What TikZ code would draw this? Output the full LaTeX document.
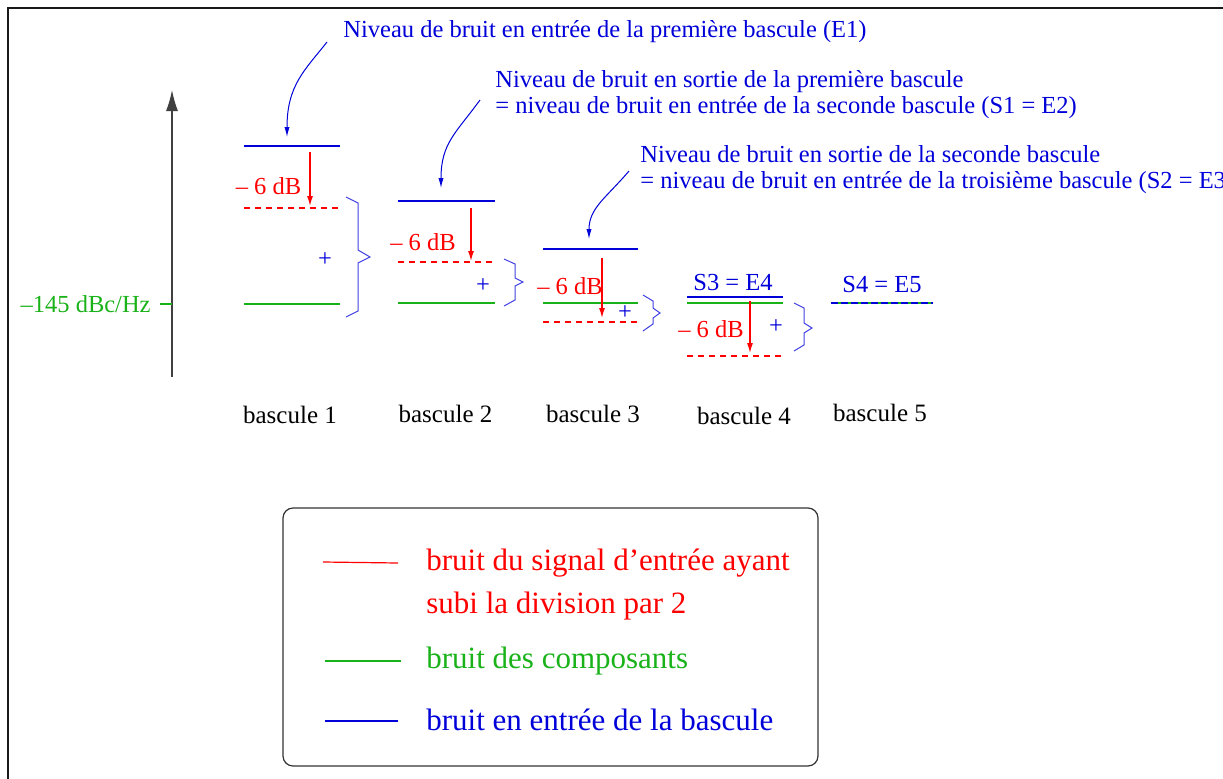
\documentclass[tikz,border=0pt]{standalone}
\usepackage{fontspec}
\setmainfont{Liberation Serif}
\usetikzlibrary{arrows.meta, positioning}

\definecolor{noiseRed}{rgb}{1,0,0}
\definecolor{noiseGreen}{rgb}{0.1,0.7,0.1}
\definecolor{noiseBlue}{rgb}{0,0,0.85}

\begin{document}
\begin{tikzpicture}[
    x=0.5pt, y=-0.5pt,
    >=Latex,
    inputLevel/.style={draw=noiseBlue, line width=0.6pt},
    compLevel/.style={draw=noiseGreen, line width=0.6pt},
    halfLevel/.style={draw=noiseRed, line width=0.6pt, dash pattern=on 3pt off 2.5pt},
    dropArrow/.style={draw=noiseRed, line width=0.6pt, -{Latex[length=5pt,width=3pt]}},
    noteArrow/.style={draw=noiseBlue, line width=0.5pt, -{Latex[length=5pt,width=2.6pt]}},
    sumBrace/.style={draw=noiseBlue!75!white, line width=0.5pt},
    noteText/.style={text=noiseBlue, font=\fontsize{12.25}{13}\selectfont, align=left, inner sep=0pt, anchor=west},
    dropText/.style={text=noiseRed, font=\fontsize{12.25}{14}\selectfont, inner sep=0pt},
    plusText/.style={text=noiseBlue, font=\fontsize{12.25}{14}\selectfont, inner sep=0pt},
    stageText/.style={font=\fontsize{12.5}{14}\selectfont, inner sep=0pt},
    keyText/.style={font=\fontsize{15.5}{21.5}\selectfont, align=left, inner sep=0pt, anchor=west},
    keyLine/.style={line width=0.6pt}
]
\useasboundingbox (0,0) rectangle (1223,778);

% ----------------------------------------------------
% Frame and level axis
% ----------------------------------------------------
\draw[line width=1pt, black!90] (7.5,800) -- (7.5,7.5) -- (1240,7.5);

\coordinate (axisLow) at (172,377);
\coordinate (axisHigh) at (172,90);
\coordinate (refTick) at (160,304);
\draw[line width=0.65pt, black!75, -{Latex[length=10.5pt,width=6pt]}] (axisLow) -- (axisHigh);
\draw[compLevel] (refTick) -- (172,304);
\node[text=noiseGreen, font=\fontsize{12.25}{14}\selectfont, inner sep=0pt, anchor=east] (refLabel) at (151,304) {--145 dBc/Hz};

% ----------------------------------------------------
% Bascule 1
% ----------------------------------------------------
\draw[inputLevel] (244,146) -- (340,146);
\draw[halfLevel] (244,208) -- (340,208);
\draw[compLevel] (244,304) -- (340,304);
\coordinate (dropTop1) at (310,152);
\coordinate (dropEnd1) at (310,206);
\draw[dropArrow] (dropTop1) -- (dropEnd1);
\node[dropText] (drop1) at (268.5,186) {-- 6 dB};
\node[plusText] (plus1) at (325,260) {+};
\draw[sumBrace] (346,197) -- (358,203) -- (358,250) -- (370,257) -- (358,263) -- (358,311) -- (346,317);

% ----------------------------------------------------
% Bascule 2
% ----------------------------------------------------
\draw[inputLevel] (398,201) -- (495,201);
\draw[halfLevel] (398,262) -- (495,262);
\draw[compLevel] (398,303) -- (495,303);
\coordinate (dropTop2) at (471,208);
\coordinate (dropEnd2) at (471,261);
\draw[dropArrow] (dropTop2) -- (dropEnd2);
\node[dropText] (drop2) at (423,242) {-- 6 dB};
\node[plusText] (plus2) at (483,286) {+};
\draw[sumBrace] (504,259) -- (515,264) -- (515,278) -- (523,282) -- (515,286) -- (515,300) -- (504,306);

% ----------------------------------------------------
% Bascule 3
% ----------------------------------------------------
\draw[inputLevel] (543,249) -- (638,249);
\draw[compLevel] (543,303) -- (638,303);
\draw[halfLevel] (543,322) -- (638,322);
\coordinate (dropTop3) at (602,258);
\coordinate (dropEnd3) at (602,318);
\draw[dropArrow] (dropTop3) -- (dropEnd3);
\node[dropText] (drop3) at (570,286) {-- 6 dB};
\node[plusText] (plus3) at (625,313) {+};
\draw[sumBrace] (643,295) -- (653,301) -- (653,308) -- (660,313) -- (653,318) -- (653,324) -- (643,331);

% ----------------------------------------------------
% Bascule 4
% ----------------------------------------------------
\node[noteText, anchor=center] (out3) at (733,283) {S3 = E4};
\draw[inputLevel] (687,297) -- (783,297);
\draw[compLevel] (687,303) -- (783,303);
\draw[halfLevel] (687,356) -- (783,356);
\coordinate (dropTop4) at (750,301);
\coordinate (dropEnd4) at (750,353);
\draw[dropArrow] (dropTop4) -- (dropEnd4);
\node[dropText] (drop4) at (711,329) {-- 6 dB};
\node[plusText] (plus4) at (776,327) {+};
\draw[sumBrace] (794,303) -- (804,308) -- (804,323) -- (812,328) -- (804,333) -- (804,345) -- (794,351);

% ----------------------------------------------------
% Bascule 5
% ----------------------------------------------------
\node[noteText, anchor=center] (out4) at (882,285) {S4 = E5};
\draw[compLevel] (831,303) -- (933,303);
\draw[inputLevel, dash pattern=on 3.5pt off 1.5pt] (831,303) -- (933,303);

% stage names
\node[stageText] (stage1) at (290,415) {bascule 1};
\node[stageText] (stage2) at (445.5,414) {bascule 2};
\node[stageText] (stage3) at (593,414) {bascule 3};
\node[stageText] (stage4) at (744,416) {bascule 4};
\node[stageText] (stage5) at (880,413) {bascule 5};

% ----------------------------------------------------
% Notes (curved pointers)
% ----------------------------------------------------
\node[noteText] (noteE1) at (343,32) {Niveau de bruit en entrée de la première bascule (E1)};
\coordinate (noteE1tail) at (327,42);
\coordinate (noteE1head) at (287,137);
\draw[noteArrow] (noteE1tail) .. controls (305,70) and (287,85) .. (noteE1head);

\node[noteText] (noteE2) at (495,95) {Niveau de bruit en sortie de la première bascule\\= niveau de bruit en entrée de la seconde bascule (S1 = E2)};
\coordinate (noteE2tail) at (480,100);
\coordinate (noteE2head) at (441,188);
\draw[noteArrow] (noteE2tail) .. controls (456,133) and (441,143) .. (noteE2head);

\node[noteText] (noteE3) at (640,169.5) {Niveau de bruit en sortie de la seconde bascule\\= niveau de bruit en entrée de la troisième bascule (S2 = E3};
\coordinate (noteE3tail) at (629,171);
\coordinate (noteE3head) at (589,239);
\draw[noteArrow] (noteE3tail) .. controls (606,198) and (589,208) .. (noteE3head);

% ----------------------------------------------------
% Legend
% ----------------------------------------------------
\draw[rounded corners=5pt, line width=0.6pt, black!80] (283,508) rectangle (818,766);
\draw[keyLine, draw=noiseRed] (323,562) -- (398,563);
\draw[keyLine, draw=noiseGreen] (325,661) -- (401,661);
\draw[keyLine, draw=noiseBlue] (325,721) -- (398,721);
\node[keyText, text=noiseRed] (keyHalf) at (426,584.5) {bruit du signal d'entrée ayant\\subi la division par 2};
\node[keyText, text=noiseGreen] (keyComp) at (426,661) {bruit des composants};
\node[keyText, text=noiseBlue] (keyInput) at (426,720) {bruit en entrée de la bascule};

\end{tikzpicture}
\end{document}
